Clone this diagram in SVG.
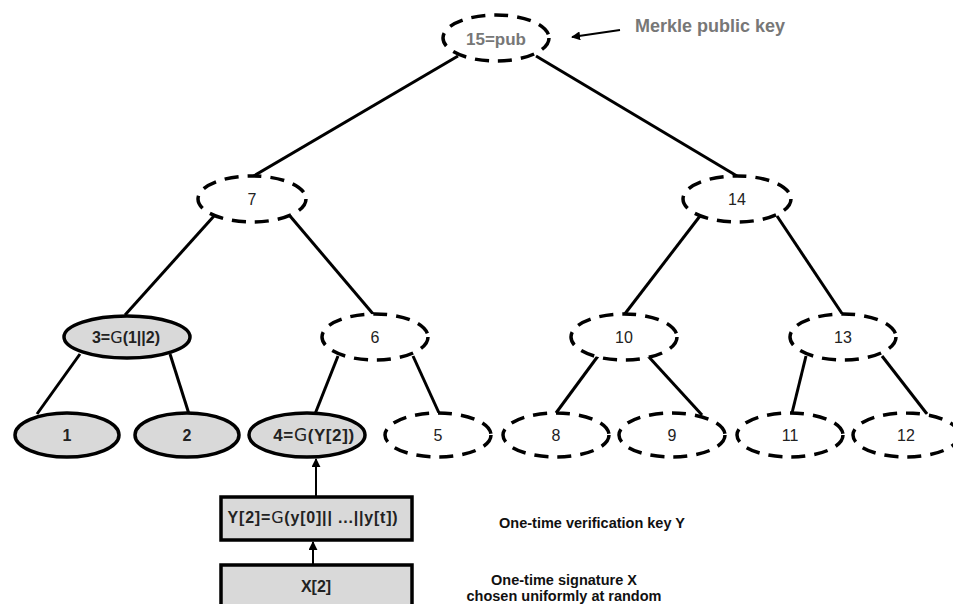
<svg xmlns="http://www.w3.org/2000/svg" width="953" height="604" viewBox="0 0 953 604">
  <defs>
    <style>
      .dash { fill: #fff; stroke: #000; stroke-width: 3.5; stroke-dasharray: 14 9; }
      .solid { fill: #d9d9d9; stroke: #000; stroke-width: 3.5; }
      .box { fill: #d9d9d9; stroke: #000; stroke-width: 3.5; }
      .edge { stroke: #000; stroke-width: 3; fill: none; }
      .lbl { font-family: "Liberation Sans", Arial, sans-serif; font-size: 16px; fill: #222; text-anchor: middle; }
      .b { font-weight: bold; }
      .g { font-weight: normal; font-family: "DejaVu Sans", sans-serif; }
      .note { font-family: "Liberation Sans", Arial, sans-serif; font-size: 14.5px; font-weight: bold; fill: #111; text-anchor: middle; }
      .grey { fill: #777; }
    </style>
    <marker id="arr" viewBox="0 0 10 10" refX="9" refY="5" markerWidth="4.5" markerHeight="4.5" orient="auto">
      <path d="M0,0 L10,5 L0,10 z" fill="#000"/>
    </marker>
  </defs>

  <g id="connectors">
    <line class="edge" x1="458" y1="56" x2="252" y2="177"/>
    <line class="edge" x1="536" y1="56" x2="737" y2="176"/>
    <line class="edge" x1="214" y1="216" x2="125" y2="315"/>
    <line class="edge" x1="290" y1="216" x2="374" y2="315"/>
    <line class="edge" x1="700" y1="216" x2="624" y2="315"/>
    <line class="edge" x1="777" y1="216" x2="843" y2="315"/>
    <line class="edge" x1="80" y1="354" x2="37" y2="414"/>
    <line class="edge" x1="170" y1="354" x2="189" y2="414"/>
    <line class="edge" x1="338" y1="356" x2="315" y2="414"/>
    <line class="edge" x1="413" y1="356" x2="439" y2="413"/>
    <line class="edge" x1="598" y1="356" x2="556" y2="413"/>
    <line class="edge" x1="648" y1="356" x2="702" y2="415"/>
    <line class="edge" x1="806" y1="356" x2="792" y2="413"/>
    <line class="edge" x1="882" y1="356" x2="927" y2="414"/>
    <line x1="316" y1="497" x2="316" y2="459" stroke="#000" stroke-width="2" marker-end="url(#arr)"/>
    <line x1="313" y1="565" x2="313" y2="542" stroke="#000" stroke-width="2" marker-end="url(#arr)"/>
    <line x1="620" y1="30" x2="572" y2="37" stroke="#000" stroke-width="2" marker-end="url(#arr)"/>
  </g>

  <g id="n15">
    <ellipse class="dash" cx="496" cy="38" rx="53" ry="23"/>
    <text class="lbl b grey" x="496" y="45" style="font-size:17px">15=pub</text>
  </g>
  <g id="n7">
    <ellipse class="dash" cx="252" cy="199" rx="54" ry="23"/>
    <text class="lbl" x="252" y="205">7</text>
  </g>
  <g id="n14">
    <ellipse class="dash" cx="737" cy="199" rx="54" ry="23"/>
    <text class="lbl" x="737" y="205">14</text>
  </g>
  <g id="n3">
    <ellipse class="solid" cx="127" cy="337" rx="63" ry="21"/>
    <text class="lbl b" x="126" y="343">3=<tspan class="g">G</tspan>(1||2)</text>
  </g>
  <g id="n6">
    <ellipse class="dash" cx="375" cy="337" rx="53" ry="23"/>
    <text class="lbl" x="375" y="343">6</text>
  </g>
  <g id="n10">
    <ellipse class="dash" cx="624" cy="337" rx="53" ry="23"/>
    <text class="lbl" x="624" y="343">10</text>
  </g>
  <g id="n13">
    <ellipse class="dash" cx="843" cy="337" rx="53" ry="23"/>
    <text class="lbl" x="843" y="343">13</text>
  </g>
  <g id="n1">
    <ellipse class="solid" cx="67" cy="435" rx="52" ry="22"/>
    <text class="lbl b" x="67" y="441">1</text>
  </g>
  <g id="n2">
    <ellipse class="solid" cx="187" cy="435" rx="52" ry="22"/>
    <text class="lbl b" x="187" y="441">2</text>
  </g>
  <g id="n4">
    <ellipse class="solid" cx="307" cy="435" rx="58" ry="22"/>
    <text class="lbl b" x="314" y="441" style="font-size:17px;letter-spacing:0.6px">4=<tspan class="g">G</tspan>(Y[2])</text>
  </g>
  <g id="n5">
    <ellipse class="dash" cx="438" cy="435" rx="53" ry="22"/>
    <text class="lbl" x="438" y="441">5</text>
  </g>
  <g id="n8">
    <ellipse class="dash" cx="556" cy="435" rx="53" ry="22"/>
    <text class="lbl" x="556" y="441">8</text>
  </g>
  <g id="n9">
    <ellipse class="dash" cx="672" cy="435" rx="53" ry="22"/>
    <text class="lbl" x="672" y="441">9</text>
  </g>
  <g id="n11">
    <ellipse class="dash" cx="790" cy="435" rx="53" ry="22"/>
    <text class="lbl" x="790" y="441">11</text>
  </g>
  <g id="n12">
    <ellipse class="dash" cx="906" cy="435" rx="53" ry="22"/>
    <text class="lbl" x="906" y="441">12</text>
  </g>

  <g id="keyY">
    <rect class="box" x="221" y="497" width="191" height="43"/>
    <text class="lbl b" x="313" y="523" style="font-size:16px;letter-spacing:0.8px">Y[2]=<tspan class="g">G</tspan>(y[0]|| ...||y[t])</text>
  </g>
  <g id="sigX">
    <rect class="box" x="221" y="565" width="191" height="42"/>
    <text class="lbl b" x="316" y="592">X[2]</text>
  </g>

  <g id="notes">
    <text class="note grey" x="710" y="32" style="font-size:18px">Merkle public key</text>
    <text class="note" x="592" y="528">One-time verification key Y</text>
    <text class="note" x="564" y="585">One-time signature X</text>
    <text class="note" x="564" y="601">chosen uniformly at random</text>
  </g>
</svg>
